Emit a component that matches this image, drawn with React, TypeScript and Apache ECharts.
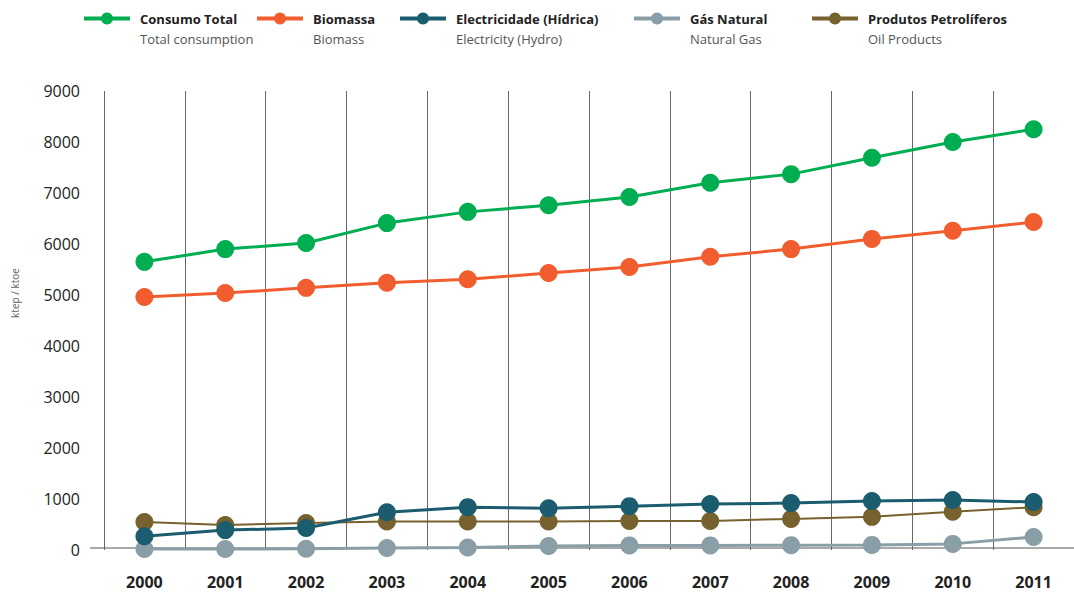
import React, { useEffect, useRef } from "react";
import * as echarts from "echarts";

const years = ["2000", "2001", "2002", "2003", "2004", "2005", "2006", "2007", "2008", "2009", "2010", "2011"];
const yTicks = [0, 1000, 2000, 3000, 4000, 5000, 6000, 7000, 8000, 9000];

const consumoTotal = [5650, 5900, 6020, 6410, 6630, 6760, 6920, 7200, 7370, 7690, 8000, 8250];
const biomassa = [4960, 5040, 5140, 5240, 5310, 5430, 5550, 5750, 5900, 6100, 6260, 6430];
const electricidade = [270, 390, 430, 740, 840, 820, 860, 900, 920, 960, 980, 940];
const gasNatural = [20, 20, 25, 40, 50, 80, 90, 90, 95, 100, 120, 255];
const petroliferos = [550, 490, 530, 560, 560, 560, 570, 570, 610, 650, 750, 840];

const seriesDefs = [
  { name: "Consumo Total", en: "Total consumption", data: consumoTotal, color: "#00ad50", width: 3, z: 5, legendLeft: 82 },
  { name: "Biomassa", en: "Biomass", data: biomassa, color: "#f15d2f", width: 3, z: 4, legendLeft: 255 },
  { name: "Electricidade (Hídrica)", en: "Electricity (Hydro)", data: electricidade, color: "#1b5c6e", width: 3, z: 3, legendLeft: 398 },
  { name: "Gás Natural", en: "Natural Gas", data: gasNatural, color: "#8a9ea8", width: 3, z: 1, legendLeft: 632 },
  { name: "Produtos Petrolíferos", en: "Oil Products", data: petroliferos, color: "#77612e", width: 2, z: 2, legendLeft: 810 },
];

const FONT = "'Open Sans', 'Noto Sans', sans-serif";

export default function App() {
  const ref = useRef<HTMLDivElement>(null);
  useEffect(() => {
    if (!ref.current) return;
    const chart = echarts.init(ref.current, null, { renderer: "svg" });
    const enMap: Record<string, string> = {};
    seriesDefs.forEach((s) => (enMap[s.name] = s.en));
    chart.setOption({
      animation: false,
      textStyle: { fontFamily: FONT },
      legend: seriesDefs.map((s) => ({
        data: [s.name],
        left: s.legendLeft,
        top: 12,
        padding: 0,
        itemWidth: 46,
        itemHeight: 15,
        selectedMode: false,
        itemStyle: { color: s.color },
        lineStyle: { color: s.color, width: 4 },
        formatter: (n: string) => `{a|${n}}\n{b|${enMap[n]}}`,
        textStyle: {
          padding: [20, 0, 0, 5],
          rich: {
            a: { fontFamily: FONT, fontSize: 13, fontWeight: "bold", color: "#222", lineHeight: 20 },
            b: { fontFamily: FONT, fontSize: 13, color: "#555", lineHeight: 20 },
          },
        },
      })),
      grid: { left: 104, right: -3, top: 91, bottom: 43, containLabel: false },
      xAxis: {
        type: "category",
        data: years,
        boundaryGap: true,
        axisLine: { show: false },
        axisTick: { show: false },
        axisLabel: { fontSize: 16, fontWeight: "bold", color: "#222", margin: 24, fontFamily: FONT },
        splitLine: { show: true, lineStyle: { color: "#666", width: 1 } },
      },
      yAxis: {
        type: "value",
        min: yTicks[0],
        max: yTicks[yTicks.length - 1],
        interval: 1000,
        axisLine: { show: false },
        axisTick: { show: false },
        splitLine: { show: false },
        axisLabel: { fontSize: 16, color: "#222", margin: 24, fontFamily: FONT, formatter: (v: number) => String(v) },
      },
      graphic: [
        { type: "line", shape: { x1: 90, y1: 548, x2: 1074, y2: 548 }, style: { stroke: "#555", lineWidth: 1 }, z: 0 },
        {
          type: "text",
          x: 15,
          y: 293,
          rotation: Math.PI / 2,
          style: { text: "ktep / ktoe", fontSize: 10, fill: "#666", align: "center", verticalAlign: "middle", fontFamily: FONT },
        },
      ],
      series: seriesDefs.map((s) => ({
        name: s.name,
        type: "line",
        data: s.data,
        z: s.z,
        symbol: "circle",
        symbolSize: 18,
        itemStyle: { color: s.color },
        lineStyle: { color: s.color, width: s.width },
        emphasis: { disabled: true },
      })),
    });
    return () => chart.dispose();
  }, []);
  return <div ref={ref} style={{ position: "absolute", left: 0, top: 0, width: 1074, height: 593 }} />;
}
